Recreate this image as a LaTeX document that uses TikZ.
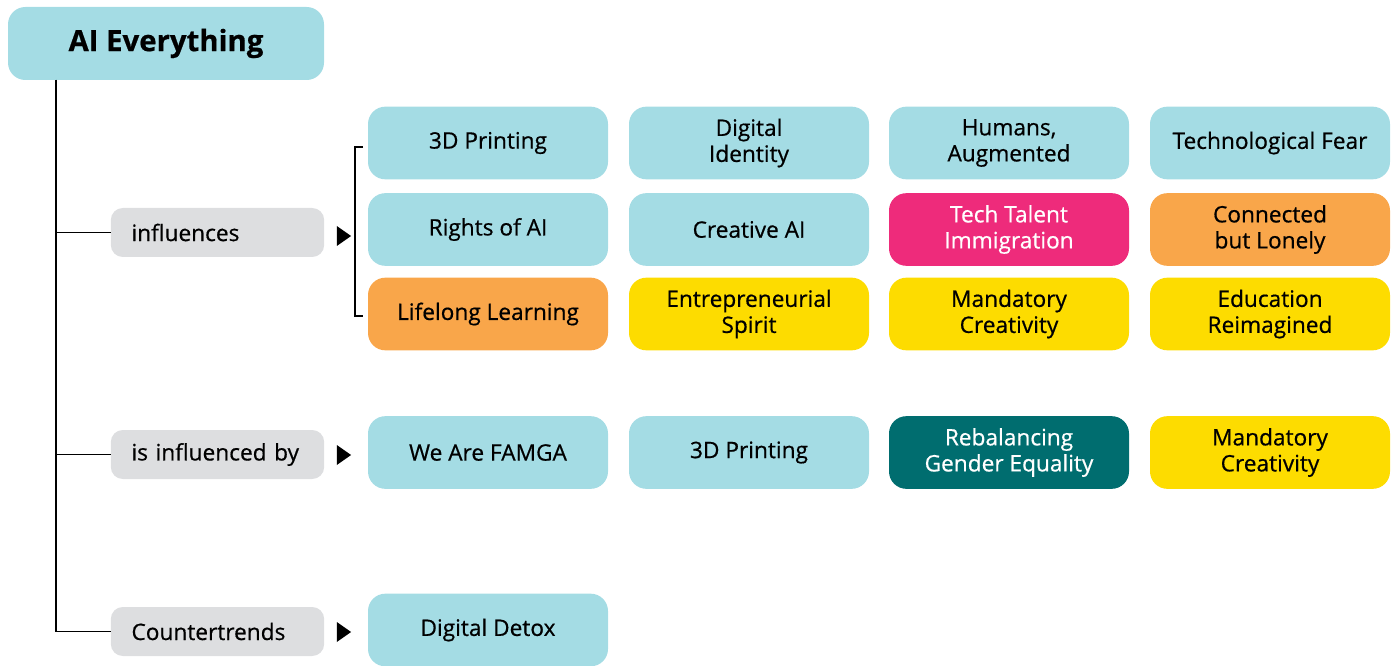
\documentclass[tikz,border=0pt]{standalone}
\usepackage{fontspec}
\setmainfont{Open Sans}[FakeBold=0.6]
\usepackage{tikz}
\usetikzlibrary{shapes.geometric}

\definecolor{aiblue}{HTML}{A4DCE4}
\definecolor{aigray}{HTML}{DDDEE0}
\definecolor{aipink}{HTML}{EE2B7B}
\definecolor{aiorange}{HTML}{F9A64A}
\definecolor{aiyellow}{HTML}{FDDC00}
\definecolor{aiteal}{HTML}{006D6F}

\begin{document}
\begin{tikzpicture}[x=0.75pt,y=-0.75pt,
  trend/.style={rounded corners=13pt,minimum width=180pt,minimum height=54.5pt,
    align=center,font=\fontsize{17}{19.5}\selectfont,inner sep=0pt},
  blue/.style={trend,fill=aiblue},
  pink/.style={trend,fill=aipink,text=white},
  orange/.style={trend,fill=aiorange},
  yellow/.style={trend,fill=aiyellow},
  teal/.style={trend,fill=aiteal,text=white},
  relation/.style={rounded corners=9pt,fill=aigray,text width=129pt,inner xsep=15.5pt,
    minimum height=36.75pt,align=left,font=\fontsize{17}{19.5}\selectfont},
  marker/.style={isosceles triangle,fill=black,inner sep=0pt,minimum height=8pt,
    minimum width=15pt,isosceles triangle apex angle=70}]
\useasboundingbox (0,0) rectangle (1394,666);
% Root
\node[rounded corners=13pt,fill=aiblue,minimum width=237pt,minimum height=54.75pt,
  font=\fontsize{22}{25}\selectfont\bfseries] (root) at (166,43.5) {AI Everything};
\coordinate (trunk) at (56,80);
% Relations
\node[relation] (infl) at (217.5,232.5) {influences};
\node[relation] (inflby) at (217.5,454.5) {is influenced by};
\node[relation] (counter) at (217.5,631.5) {Countertrends};
\draw[line width=0.8pt] (trunk) |- (infl.west);
\draw[line width=0.8pt] (trunk) |- (inflby.west);
\draw[line width=0.8pt] (trunk) |- (counter.west);
\node[marker] (mInfl) at (342,236) {};
\node[marker] (mInflby) at (342,455) {};
\node[marker] (mCounter) at (342,632) {};
% Bracket
\draw[line width=0.8pt] (363,147) -- (355,147) -- (355,316) -- (363,316);
% influences
\node[blue] (printing) at (488,143) {3D Printing};
\node[blue] (identity) at (749,143) {Digital\\Identity};
\node[blue] (humans) at (1009,143) {Humans,\\Augmented};
\node[blue] (fear) at (1270,143) {Technological Fear};
\node[blue] (rights) at (488,229.5) {Rights of AI};
\node[blue] (creative) at (749,229.5) {Creative AI};
\node[pink] (talent) at (1009,229.5) {Tech Talent\\Immigration};
\node[orange] (lonely) at (1270,229.5) {Connected\\but Lonely};
\node[orange] (lifelong) at (488,314) {Lifelong Learning};
\node[yellow] (spirit) at (749,314) {Entrepreneurial\\Spirit};
\node[yellow] (mandatory) at (1009,314) {Mandatory\\Creativity};
\node[yellow] (education) at (1270,314) {Education\\Reimagined};
% is influenced by
\node[blue] (famga) at (488,452.5) {We Are FAMGA};
\node[blue] (printingB) at (749,452.5) {3D Printing};
\node[teal] (gender) at (1009,452.5) {Rebalancing\\Gender Equality};
\node[yellow] (mandatoryB) at (1270,452.5) {Mandatory\\Creativity};
% Countertrends
\node[blue] (detox) at (488,630) {Digital Detox};
\end{tikzpicture}
\end{document}
